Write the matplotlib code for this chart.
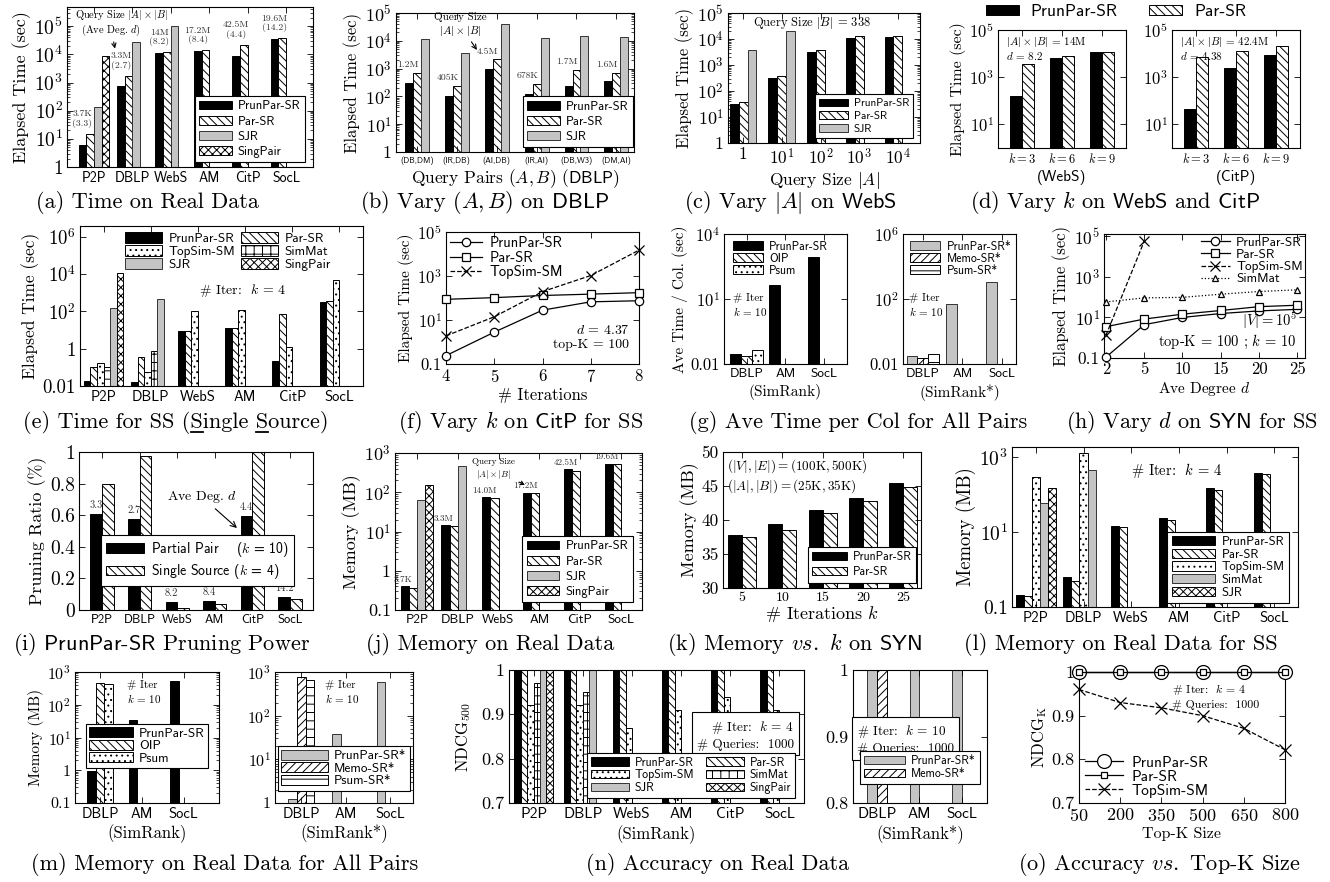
import numpy as np
import matplotlib
matplotlib.use('Agg')
import matplotlib.pyplot as plt
from matplotlib.ticker import FuncFormatter, LogLocator, NullLocator
from matplotlib.lines import Line2D

plt.rcParams['font.family'] = 'serif'
plt.rcParams['font.serif'] = ['cmr10']
plt.rcParams['mathtext.fontset'] = 'cm'
plt.rcParams['axes.unicode_minus'] = False
plt.rcParams['axes.formatter.use_mathtext'] = True
plt.rcParams['hatch.linewidth'] = 0.7
plt.rcParams['axes.linewidth'] = 0.8

nan = np.nan

# ---------------- data ----------------
real6 = ['P2P', 'DBLP', 'WebS', 'AM', 'CitP', 'SocL']
real3 = ['DBLP', 'AM', 'SocL']

# (a) time on real data
a_prun = [6, 750, 11000, 13000, 9000, 35000]
a_par = [15, 1700, 12000, 14000, 22000, 37000]
a_sjr = [130, 28000, 100000, nan, nan, nan]
a_sing = [9000, nan, nan, nan, nan, nan]
a_size = ['3.7K\n(3.3)', '3.3M\n(2.7)', '14M\n(8.2)', '17.2M\n(8.4)', '42.5M\n(4.4)', '19.6M\n(14.2)']

# (b) vary (A, B) on DBLP
b_pairs = ['(DB,DM)', '(IR,DB)', '(AI,DB)', '(IR,AI)', '(DB,W3)', '(DM,AI)']
b_prun = [300, 100, 930, 125, 230, 350]
b_par = [720, 245, 2150, 290, 890, 720]
b_sjr = [12000, 3500, 39000, 13000, 15000, 13500]
b_size = ['1.2M', '405K', '4.5M', '678K', '1.7M', '1.6M']

# (c) vary |A| on WebS
c_sizes = ['1', '$10^1$', '$10^2$', '$10^3$', '$10^4$']
c_prun = [32, 325, 3200, 11000, 12000]
c_par = [38, 365, 3900, 12600, 13000]
c_sjr = [3900, 20000, nan, nan, nan]

# (d) vary k on WebS and CitP
d_k = ['$k = 3$', '$k = 6$', '$k = 9$']
d_webs_prun = [163, 6500, 11400]
d_webs_par = [3700, 7700, 11800]
d_citp_prun = [47, 2400, 9100]
d_citp_par = [6900, 12600, 20500]

# (e) time for single source
e_prun = [0.019, 0.016, 9.3, 13.5, 0.21, 315]
e_par = [0.098, 0.35, 9.3, 13.5, 72, 355]
e_topsim = [0.18, 0.055, 100, 122, 1.3, 4600]
e_simmat = [0.098, 0.72, nan, nan, nan, nan]
e_sjr = [145, 440, nan, nan, nan, nan]
e_sing = [11700, nan, nan, nan, nan, nan]

# (f) vary k on CitP for SS
f_iters = [4, 5, 6, 7, 8]
f_prun = [0.24, 2.8, 28, 67, 75]
f_par = [87, 104, 130, 150, 175]
f_topsim = [1.9, 14, 195, 1050, 15000]

# (g) average time per column, all pairs
g_prun = [0.029, 43, 900]
g_oip = [0.024, nan, nan]
g_psum = [0.045, nan, nan]
g_prun_star = [0.032, 49, 1120]
g_memo_star = [0.022, nan, nan]
g_psum_star = [0.04, nan, nan]

# (h) vary d on SYN for SS
h_deg = ['2', '5', '10', '15', '20', '25']
h_prun = [0.11, 4.4, 10, 15.6, 21, 25]
h_par = [3.5, 8.3, 14.5, 22, 34, 40]
h_topsim = [1.3, 57000]
h_simmat = [58, 92, 98, 140, 190, 230]

# (i) pruning power
i_partial = [0.61, 0.575, 0.053, 0.059, 0.594, 0.08]
i_single = [0.80, 0.973, 0.015, 0.038, 1.0, 0.067]
i_deg = ['3.3', '2.7', '8.2', '8.4', '4.4', '14.2']

# (j) memory on real data
j_prun = [0.4, 14.5, 76, 98, 380, 540]
j_par = [0.37, 14, 72, 93, 345, 515]
j_sjr = [63, 470, nan, nan, nan, nan]
j_sing = [150, nan, nan, nan, nan, nan]
j_size = ['3.7K', '3.3M', '14.0M', '17.2M', '42.5M', '19.6M']

# (k) memory vs k on SYN
k_iters = ['5', '10', '15', '20', '25']
k_prun = [37.8, 39.4, 41.5, 43.3, 45.4]
k_par = [37.5, 38.5, 41.1, 42.8, 44.9]

# (l) memory for SS
l_prun = [0.21, 0.63, 14.8, 23, 145, 380]
l_par = [0.2, 0.48, 13.8, 21, 135, 360]
l_topsim = [295, 1260, nan, nan, nan, nan]
l_simmat = [60, 450, nan, nan, nan, nan]
l_sjr = [145, nan, nan, nan, nan, nan]

# (m) memory for all pairs
m_prun = [0.95, 34, 520]
m_oip = [460, nan, nan]
m_psum = [435, nan, nan]
m_prun_star = [1.23, 38, 590]
m_memo_star = [760, nan, nan]
m_psum_star = [645, nan, nan]

# (n) accuracy on real data
n_prun = [1, 1, 1, 1, 1, 1]
n_par = [1, 1, 1, 1, 1, 1]
n_topsim = [0.92, 0.92, 0.87, 0.91, 0.94, 0.91]
n_simmat = [0.97, 0.95, nan, nan, nan, nan]
n_sjr = [1, 1, nan, nan, nan, nan]
n_sing = [1, nan, nan, nan, nan, nan]
n_prun_star = [1, 1, 1]
n_memo_star = [1, nan, nan]

# (o) accuracy vs top-K
o_k = [50, 200, 350, 500, 650, 800]
o_prun = [1, 1, 1, 1, 1, 1]
o_par = [1, 1, 1, 1, 1, 1]
o_topsim = [0.96, 0.93, 0.918, 0.90, 0.871, 0.822]

# ---------------- helpers ----------------
W, H = 1330, 882
fig = plt.figure(figsize=(W / 100, H / 100), dpi=100)
SANS = 'cmss10'
DEC5 = [1, 10, 1e2, 1e3, 1e4, 1e5]

PAT = {
    'black': dict(facecolor='black', edgecolor='black'),
    'hatch': dict(facecolor='white', edgecolor='black', hatch='\\\\\\\\'),
    'gray': dict(facecolor='#c4c4c4', edgecolor='#333333'),
    'cross': dict(facecolor='white', edgecolor='black', hatch='xxxx'),
    'dots': dict(facecolor='white', edgecolor='black', hatch='...'),
    'grid': dict(facecolor='white', edgecolor='black', hatch='++'),
    'ne': dict(facecolor='white', edgecolor='black', hatch='////'),
    'hl': dict(facecolor='white', edgecolor='black', hatch='--'),
}


def box(x0, y0, x1, y1):
    return fig.add_axes([x0 / W, 1 - y1 / H, (x1 - x0) / W, (y1 - y0) / H])


def logfmt(v, pos):
    e = int(round(np.log10(v)))
    if e == 0:
        return '1'
    if e == -1:
        return '0.1'
    if e == -2:
        return '0.01'
    return r'$10^{%d}$' % e


def setup(ax, ylim, xlim, log=True, yticks=None, minor=False, ysize=13):
    if log:
        ax.set_yscale('log')
    ax.set_ylim(*ylim)
    ax.set_xlim(*xlim)
    if yticks is not None:
        ax.set_yticks(yticks)
    if log:
        ax.yaxis.set_major_formatter(FuncFormatter(logfmt))
        if minor:
            ax.yaxis.set_minor_locator(LogLocator(base=10, subs=np.arange(2, 10), numticks=40))
        else:
            ax.yaxis.set_minor_locator(NullLocator())
    else:
        ax.yaxis.set_major_formatter(FuncFormatter(lambda v, p: '%g' % v))
    ax.tick_params(which='both', direction='in', top=True, right=True)
    ax.tick_params(which='major', length=4, width=0.6, labelsize=ysize, pad=3)
    ax.tick_params(which='minor', length=2, width=0.5)


def bars(ax, series, w):
    k = len(series)
    for i, (lab, vals, pat) in enumerate(series):
        off = (i - (k - 1) / 2) * w
        xs = [j + off for j, v in enumerate(vals) if not np.isnan(v)]
        hs = [v for v in vals if not np.isnan(v)]
        ax.bar(xs, hs, w, label=lab, linewidth=0.7, **PAT[pat])


def cats(ax, labels, size=9.5, family=SANS):
    ax.set_xticks(range(len(labels)))
    ax.set_xticklabels(labels, fontfamily=family, fontsize=size)


def leg(ax, order=None, size=9, frame=True, **kw):
    h, l = ax.get_legend_handles_labels()
    if order is not None:
        h = [h[i] for i in order]
        l = [l[i] for i in order]
    opts = dict(prop={'family': SANS, 'size': size}, frameon=frame, fancybox=False,
                edgecolor='black', framealpha=1, borderpad=0.35, handlelength=2.6,
                handleheight=0.7, labelspacing=0.25, handletextpad=0.5, borderaxespad=0)
    opts.update(kw)
    lg = ax.legend(h, l, **opts)
    lg.get_frame().set_linewidth(0.8)
    return lg


def line(ax, x, y, ls, marker, lab, ms=6):
    ax.plot(x, y, ls=ls, marker=marker, ms=ms, color='black', lw=0.9, mfc='white',
            mec='black', mew=0.9, label=lab, clip_on=False, zorder=3)


def caption(x, y, s):
    return fig.text(x / W, 1 - y / H, s, ha='center', va='center', fontsize=16)


NOTE = dict(fontsize=7, color='#333333', ha='center')
ARROW = dict(arrowstyle='->', lw=0.8, color='black', shrinkA=1, shrinkB=0)

# ---------------- (a) ----------------
ax = box(67, 7, 313, 167)
setup(ax, (1, 4.8e5), (-0.7, 5.7), yticks=DEC5, minor=True, ysize=14)
bars(ax, [('PrunPar-SR', a_prun, 'black'), ('Par-SR', a_par, 'hatch'),
          ('SJR', a_sjr, 'gray'), ('SingPair', a_sing, 'cross')], 0.2)
cats(ax, real6, size=10)
for j, s in enumerate(a_size):
    ax.text(j - 0.3, a_par[j] * 3.4, s, va='center', linespacing=1.1, **NOTE)
ax.text(0.22, 0.95, 'Query Size $|A| \\times |B|$', transform=ax.transAxes, ha='center', va='center',
        fontsize=7.5)
ax.annotate('(Ave Deg. $d$)', xy=(0.195, 0.74), xycoords='axes fraction',
            xytext=(0.18, 0.855), textcoords='axes fraction', ha='center', va='center',
            fontsize=7.5, arrowprops=ARROW)
ax.set_ylabel('Elapsed Time (sec)', fontsize=13, labelpad=2)
leg(ax, size=9, loc='lower right', bbox_to_anchor=(0.967, 0.03))
caption(147, 203, '(a) Time on Real Data')

# ---------------- (b) ----------------
ax = box(396, 13, 634, 152)
setup(ax, (1, 1e5), (-0.52, 5.44), yticks=DEC5, minor=True, ysize=13)
bars(ax, [('PrunPar-SR', b_prun, 'black'), ('Par-SR', b_par, 'hatch'), ('SJR', b_sjr, 'gray')], 0.2)
cats(ax, b_pairs, size=6)
for j, s in enumerate(b_size):
    ax.text(j - 0.23, b_par[j] * 1.9, s, va='center', **NOTE)
ax.annotate('Query Size\n$|A| \\times |B|$', xy=(0.34, 0.734), xycoords='axes fraction',
            xytext=(0.269, 0.914), textcoords='axes fraction', ha='center', va='center',
            fontsize=8, arrowprops=ARROW)
ax.set_ylabel('Elapsed Time (sec)', fontsize=12, labelpad=2)
ax.set_xlabel(r'Query Pairs $(A, B)$ $(\mathsf{DBLP})$', fontsize=12.5, labelpad=2)
leg(ax, size=9, loc='lower right', bbox_to_anchor=(0.995, 0.035))
caption(485, 203, r'(b) Vary $(A, B)$ on $\mathsf{DBLP}$')

# ---------------- (c) ----------------
ax = box(728, 13, 920, 143)
setup(ax, (1, 1e5), (-0.39, 4.57), yticks=DEC5, minor=True, ysize=13)
bars(ax, [('PrunPar-SR', c_prun, 'black'), ('Par-SR', c_par, 'hatch'), ('SJR', c_sjr, 'gray')], 0.23)
cats(ax, c_sizes, size=12.5, family='serif')
ax.text(0.44, 0.92, 'Query Size $|B|$ = 338', transform=ax.transAxes, ha='center', va='center', fontsize=9)
ax.set_ylabel('Elapsed Time (sec)', fontsize=12, labelpad=2)
ax.set_xlabel('Query Size $|A|$', fontsize=12.5, labelpad=2)
leg(ax, size=8, loc='lower right', bbox_to_anchor=(0.964, 0.04))
caption(790, 203, r'(c) Vary $|A|$ on $\mathsf{WebS}$')

# ---------------- (d) ----------------
for (x0, x1, prun, par, note, name, first) in [
        (998, 1126, d_webs_prun, d_webs_par, '$|A| \\times |B|$ = 14M\n$d$ = 8.2', '(WebS)', True),
        (1172, 1300, d_citp_prun, d_citp_par, '$|A| \\times |B|$ = 42.4M\n$d$ = 4.38', '(CitP)', False)]:
    ax = box(x0, 30, x1, 148)
    setup(ax, (1, 1e5), (-0.6, 2.6), yticks=[10, 1e3, 1e5], ysize=12)
    bars(ax, [('PrunPar-SR', prun, 'black'), ('Par-SR', par, 'hatch')], 0.3)
    cats(ax, d_k, size=9, family='serif')
    ax.text(0.06, 0.96, note, transform=ax.transAxes, ha='left', va='top', fontsize=8, linespacing=1.1)
    ax.set_xlabel(name, fontfamily=SANS, fontsize=11, labelpad=3)
    if first:
        ax.set_ylabel('Elapsed Time (sec)', fontsize=11.5, labelpad=2)
        hd, lb = ax.get_legend_handles_labels()
fig.legend(hd, lb, loc='center', bbox_to_anchor=(1116 / W, 1 - 12 / H), ncol=2, frameon=False,
           prop={'family': SANS, 'size': 12.5}, handlelength=1.9, handleheight=0.5,
           columnspacing=1.8, handletextpad=0.7)
caption(1115, 203, r'(d) Vary $k$ on $\mathsf{WebS}$ and $\mathsf{CitP}$')

# ---------------- (e) ----------------
ax = box(80, 226, 363, 386)
setup(ax, (0.01, 3.7e6), (-0.5, 5.5), yticks=[0.01, 1, 1e2, 1e4, 1e6], ysize=13.5)
bars(ax, [('PrunPar-SR', e_prun, 'black'), ('Par-SR', e_par, 'hatch'), ('TopSim-SM', e_topsim, 'dots'),
          ('SimMat', e_simmat, 'grid'), ('SJR', e_sjr, 'gray'), ('SingPair', e_sing, 'cross')], 0.14)
cats(ax, real6, size=10.5)
ax.text(0.576, 0.594, '# Iter:  $k$ = 4', transform=ax.transAxes, ha='center', va='center', fontsize=10)
ax.set_ylabel('Elapsed Time (sec)', fontsize=12.5, labelpad=2)
leg(ax, order=[0, 2, 4, 1, 3, 5], size=9.5, frame=False, ncol=2, loc='upper left',
    bbox_to_anchor=(0.16, 0.965), handlelength=2.8, handleheight=0.9, labelspacing=0.0,
    columnspacing=0.4, borderpad=0)
cap_e = caption(176, 423, '(e) Time for SS (Single Source)')

# underline the two S letters of "Single Source"
rend = fig.canvas.get_renderer()
full = cap_e.get_window_extent(rend)
for idx in [17, 24]:
    pa = fig.text(0, 0, cap_e.get_text()[:idx], fontsize=16)
    pb = fig.text(0, 0, cap_e.get_text()[:idx + 1], fontsize=16)
    ux0 = full.x0 + pa.get_window_extent(rend).width
    ux1 = full.x0 + pb.get_window_extent(rend).width
    pa.remove()
    pb.remove()
    fig.add_artist(Line2D([ux0 / W, ux1 / W], [(full.y0 + 2.5) / H] * 2,
                          transform=fig.transFigure, color='black', lw=1.3))

# ---------------- (f) ----------------
ax = box(446, 232, 639, 364)
setup(ax, (0.1, 1e5), (4, 8), yticks=[0.1, 10, 1e3, 1e5], ysize=12)
line(ax, f_iters, f_prun, '-', 'o', 'PrunPar-SR')
line(ax, f_iters, f_par, '-', 's', 'Par-SR')
line(ax, f_iters, f_topsim, '--', 'x', 'TopSim-SM', ms=7)
ax.set_xticks(f_iters)
ax.text(0.95, 0.1, '$d$ = 4.37\ntop-K = 100', transform=ax.transAxes, ha='right', va='bottom',
        fontsize=10, multialignment='right')
ax.set_ylabel('Elapsed Time (sec)', fontsize=11, labelpad=2)
ax.set_xlabel('# Iterations', fontsize=12, labelpad=2)
leg(ax, size=10.5, frame=False, loc='upper left', bbox_to_anchor=(0.02, 0.97), handlelength=2.2,
    labelspacing=0.05, borderpad=0)
caption(521, 423, r'(f) Vary $k$ on $\mathsf{CitP}$ for SS')

# ---------------- (g) ----------------
ax = box(724, 234, 847, 364)
setup(ax, (0.01, 1e4), (-0.58, 2.58), yticks=[0.01, 10, 1e4], ysize=12)
bars(ax, [('PrunPar-SR', g_prun, 'black'), ('OIP', g_oip, 'hatch'), ('Psum', g_psum, 'dots')], 0.28)
cats(ax, real3, size=9.5)
ax.text(0.07, 0.45, '# Iter\n$k$ = 10', transform=ax.transAxes, ha='left', va='center', fontsize=8)
ax.set_ylabel('Ave Time / Col. (sec)', fontsize=11, labelpad=2)
ax.set_xlabel('(SimRank)', fontsize=11, labelpad=3)
leg(ax, size=8.5, frame=False, loc='upper left', bbox_to_anchor=(0.07, 0.95), handlelength=2.6,
    labelspacing=0.0, borderpad=0, handleheight=0.8)

ax = box(903, 234, 1016, 364)
setup(ax, (0.01, 1e6), (-0.5, 2.35), yticks=[0.01, 1e2, 1e6], ysize=12)
bars(ax, [('PrunPar-SR*', g_prun_star, 'gray'), ('Memo-SR*', g_memo_star, 'ne'),
          ('Psum-SR*', g_psum_star, 'hl')], 0.27)
cats(ax, real3, size=9.5)
ax.text(0.05, 0.45, '# Iter\n$k$ = 10', transform=ax.transAxes, ha='left', va='center', fontsize=8)
ax.set_xlabel('(SimRank*)', fontsize=11, labelpad=3)
leg(ax, size=8.5, frame=False, loc='upper left', bbox_to_anchor=(0.06, 0.95), handlelength=2.6,
    labelspacing=0.0, borderpad=0, handleheight=0.8)
caption(858, 423, '(g) Ave Time per Col for All Pairs')

# ---------------- (h) ----------------
ax = box(1104, 234, 1305, 358)
setup(ax, (0.1, 1.3e5), (-0.05, 5.2), yticks=[0.1, 10, 1e3, 1e5], ysize=12.5)
xh = list(range(len(h_deg)))
line(ax, xh, h_prun, '-', 'o', 'PrunPar-SR')
line(ax, xh, h_par, '-', 's', 'Par-SR')
line(ax, xh[:len(h_topsim)], h_topsim, '--', 'x', 'TopSim-SM', ms=7)
line(ax, xh, h_simmat, ':', '^', 'SimMat', ms=5)
ax.set_xticks(xh)
ax.set_xticklabels(h_deg, fontsize=12)
ax.text(0.96, 0.22, '$|V| = 10^5$', transform=ax.transAxes, ha='right', va='bottom', fontsize=10.5)
ax.text(0.96, 0.06, 'top-K = 100 ; $k$ = 10', transform=ax.transAxes, ha='right', va='bottom', fontsize=10.5)
ax.set_ylabel('Elapsed Time (sec)', fontsize=12, labelpad=2)
ax.set_xlabel('Ave Degree $d$', fontsize=11, labelpad=2)
leg(ax, size=9.5, frame=False, loc='upper right', bbox_to_anchor=(0.99, 0.98), handlelength=2.2,
    labelspacing=0.0, borderpad=0)
caption(1192, 423, r'(h) Vary $d$ on $\mathsf{SYN}$ for SS')

# ---------------- (i) ----------------
ax = box(79, 452, 313, 610)
setup(ax, (0, 1), (-0.61, 5.61), log=False, yticks=[0, 0.2, 0.4, 0.6, 0.8, 1], ysize=14)
bars(ax, [('Partial Pair    ($k$ = 10)', i_partial, 'black'),
          ('Single Source ($k$ = 4)', i_single, 'hatch')], 0.31)
cats(ax, real6, size=9)
for j, s in enumerate(i_deg):
    ax.text(j - 0.155, i_partial[j] + 0.025, s, va='bottom', fontsize=7.5, color='#333333', ha='center')
ax.annotate('Ave Deg. $d$', xy=(0.675, 0.519), xycoords='axes fraction', xytext=(0.526, 0.715),
            textcoords='axes fraction', ha='center', va='center', fontsize=10, arrowprops=ARROW)
ax.set_ylabel('Pruning Ratio (%)', fontsize=13, labelpad=2)
leg(ax, size=10, loc='center', bbox_to_anchor=(0.506, 0.313), handlelength=2.7)
caption(162, 645, r'(i) $\mathsf{PrunPar}$-$\mathsf{SR}$ Pruning Power')

# ---------------- (j) ----------------
ax = box(395, 453, 642, 610)
setup(ax, (0.1, 1e3), (-0.54, 5.52), yticks=[0.1, 1, 10, 1e2, 1e3], minor=True, ysize=13)
bars(ax, [('PrunPar-SR', j_prun, 'black'), ('Par-SR', j_par, 'hatch'),
          ('SJR', j_sjr, 'gray'), ('SingPair', j_sing, 'cross')], 0.2)
cats(ax, real6, size=9.5)
for j, s in enumerate(j_size):
    ax.text(j - 0.35, j_prun[j] * 1.15, s, va='bottom', fontsize=6.5, color='#333333', ha='center')
ax.annotate('Query Size\n$|A| \\times |B|$', xy=(0.526, 0.796), xycoords='axes fraction',
            xytext=(0.4, 0.898), textcoords='axes fraction', ha='center', va='center',
            fontsize=6.5, arrowprops=ARROW)
ax.set_ylabel('Memory (MB)', fontsize=13, labelpad=2)
leg(ax, size=9, loc='lower right', bbox_to_anchor=(0.962, 0.05))
caption(490, 645, '(j) Memory on Real Data')

# ---------------- (k) ----------------
ax = box(723, 452, 921, 588)
setup(ax, (30, 50), (-0.48, 4.45), log=False, yticks=[30, 35, 40, 45, 50], ysize=12.5)
bars(ax, [('PrunPar-SR', k_prun, 'black'), ('Par-SR', k_par, 'hatch')], 0.35)
cats(ax, k_iters, size=10, family='serif')
ax.text(0.02, 0.96, '$(|V|, |E|) = (100\\mathrm{K}, 500\\mathrm{K})$\n$(|A|, |B|) = (25\\mathrm{K}, 35\\mathrm{K})$',
        transform=ax.transAxes, ha='left', va='top', fontsize=9.5, linespacing=1.2)
ax.set_ylabel('Memory (MB)', fontsize=13, labelpad=2)
ax.set_xlabel('# Iterations $k$', fontsize=13, labelpad=0)
leg(ax, size=8.5, loc='lower right', bbox_to_anchor=(0.975, 0.04), handlelength=3)
caption(795, 645, r'(k) Memory $\mathit{vs.}$ $k$ on $\mathsf{SYN}$')

# ---------------- (l) ----------------
ax = box(1012, 447, 1298, 607)
setup(ax, (0.1, 1.85e3), (-0.5, 5.5), yticks=[0.1, 10, 1e3], ysize=14)
bars(ax, [('PrunPar-SR', l_prun, 'black'), ('Par-SR', l_par, 'hatch'), ('TopSim-SM', l_topsim, 'dots'),
          ('SimMat', l_simmat, 'gray'), ('SJR', l_sjr, 'cross')], 0.17)
cats(ax, real6, size=10.5)
ax.text(0.577, 0.856, '# Iter:  $k$ = 4', transform=ax.transAxes, ha='center', va='center', fontsize=10.5)
ax.set_ylabel('Memory (MB)', fontsize=13.5, labelpad=2)
leg(ax, size=9, loc='lower right', bbox_to_anchor=(0.969, 0.025), labelspacing=0.05,
    handleheight=0.75, handlelength=3.5)
caption(1121, 645, '(l) Memory on Real Data for SS')

# ---------------- (m) ----------------
ax = box(75, 672, 219, 803)
setup(ax, (0.1, 1e3), (-0.6, 2.85), yticks=[0.1, 1, 10, 1e2, 1e3], minor=True, ysize=11.5)
bars(ax, [('PrunPar-SR', m_prun, 'black'), ('OIP', m_oip, 'hatch'), ('Psum', m_psum, 'dots')], 0.21)
cats(ax, real3, size=10.5)
ax.text(0.36, 0.94, '# Iter\n$k$ = 10', transform=ax.transAxes, ha='left', va='top', fontsize=8)
ax.set_ylabel('Memory (MB)', fontsize=11, labelpad=2)
ax.set_xlabel('(SimRank)', fontsize=12, labelpad=2)
leg(ax, size=9.5, loc='center', bbox_to_anchor=(0.5, 0.435), labelspacing=0.0, handlelength=3.3,
    handleheight=0.8, borderpad=0.25)

ax = box(275, 672, 413, 803)
setup(ax, (1, 1e3), (-0.59, 2.52), yticks=[1, 10, 1e2, 1e3], minor=True, ysize=11.5)
bars(ax, [('PrunPar-SR*', m_prun_star, 'gray'), ('Memo-SR*', m_memo_star, 'ne'),
          ('Psum-SR*', m_psum_star, 'hl')], 0.2)
cats(ax, real3, size=10.5)
ax.text(0.36, 0.94, '# Iter\n$k$ = 10', transform=ax.transAxes, ha='left', va='top', fontsize=8)
ax.set_xlabel('(SimRank*)', fontsize=12, labelpad=2)
leg(ax, size=9.5, loc='center', bbox_to_anchor=(0.5, 0.263), labelspacing=0.0, handlelength=3.5,
    handleheight=0.8, borderpad=0.25)
caption(225, 865, '(m) Memory on Real Data for All Pairs')

# ---------------- (n) ----------------
ax = box(509, 670, 804, 803)
setup(ax, (0.7, 1), (-0.5, 5.5), log=False, yticks=[0.7, 0.8, 0.9, 1], ysize=13)
bars(ax, [('PrunPar-SR', n_prun, 'black'), ('Par-SR', n_par, 'hatch'), ('TopSim-SM', n_topsim, 'dots'),
          ('SimMat', n_simmat, 'grid'), ('SJR', n_sjr, 'gray'), ('SingPair', n_sing, 'cross')], 0.13)
cats(ax, real6, size=11)
ax.text(0.966, 0.632, '# Iter:  $k$ = 4\n# Queries:  1000', transform=ax.transAxes, ha='right', va='top',
        fontsize=9.5, linespacing=1.3,
        bbox=dict(boxstyle='square,pad=0.35', fc='white', ec='black', lw=0.8))
ax.set_ylabel('NDCG$_{500}$', fontsize=12, labelpad=6)
ax.set_xlabel('(SimRank)', fontsize=12, labelpad=3)
leg(ax, order=[0, 2, 4, 1, 3, 5], size=8.5, ncol=2, loc='lower right', bbox_to_anchor=(0.97, 0.038),
    labelspacing=0.05, columnspacing=1.0, handlelength=3.2, handleheight=0.7)

ax = box(853, 670, 987, 803)
setup(ax, (0.8, 1), (-0.57, 2.6), log=False, yticks=[0.8, 0.9, 1], ysize=13)
bars(ax, [('PrunPar-SR*', n_prun_star, 'gray'), ('Memo-SR*', n_memo_star, 'ne')], 0.23)
cats(ax, real3, size=11)
ax.text(0.03, 0.6, '# Iter:  $k$ = 10\n# Queries:  1000', transform=ax.transAxes, ha='left', va='top',
        fontsize=9.5, linespacing=1.3,
        bbox=dict(boxstyle='square,pad=0.35', fc='white', ec='black', lw=0.8))
ax.set_xlabel('(SimRank*)', fontsize=12, labelpad=3)
leg(ax, size=8.5, loc='center', bbox_to_anchor=(0.5, 0.265), labelspacing=0.05, handlelength=3.5)
caption(718, 865, '(n) Accuracy on Real Data')

# ---------------- (o) ----------------
ax = box(1079, 672, 1285, 803)
setup(ax, (0.7, 1), (50, 800), log=False, yticks=[0.7, 0.8, 0.9, 1], ysize=13)
line(ax, o_k, o_prun, '-', 'o', 'PrunPar-SR', ms=10)
line(ax, o_k, o_par, '-', 's', 'Par-SR', ms=4)
line(ax, o_k, o_topsim, '--', 'x', 'TopSim-SM', ms=8)
ax.set_xticks(o_k)
ax.text(0.45, 0.92, '# Iter:  $k$ = 4\n# Queries:  1000', transform=ax.transAxes, ha='left', va='top',
        fontsize=8.5, linespacing=1.3)
ax.set_ylabel('NDCG$_\\mathrm{K}$', fontsize=12, labelpad=2)
ax.set_xlabel('Top-K Size', fontsize=11.5, labelpad=2)
leg(ax, size=11, frame=False, loc='lower left', bbox_to_anchor=(0.03, 0.04), handlelength=2.5,
    labelspacing=0.0, borderpad=0)
caption(1160, 865, r'(o) Accuracy $\mathit{vs.}$ Top-K Size')

fig.savefig('out.png', dpi=100)
